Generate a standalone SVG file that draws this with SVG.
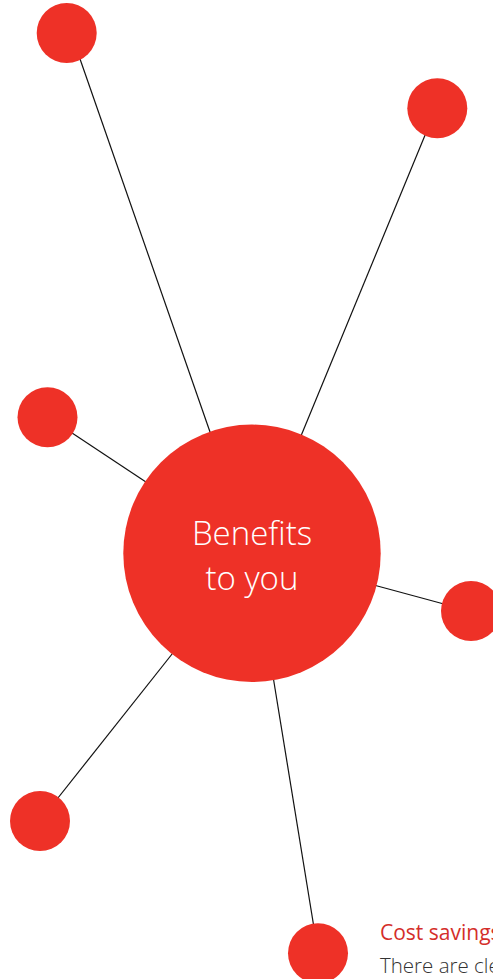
<svg xmlns="http://www.w3.org/2000/svg" width="493" height="979" viewBox="0 0 493 979">
<style>
.dot{fill:#EE3127}
.ln{stroke:#111;stroke-width:1.2;fill:none}
.ctr{font-family:"Open Sans","Liberation Sans",sans-serif;font-weight:300;font-size:33px;fill:#fff;text-anchor:middle}
.hd{font-family:"Open Sans","Liberation Sans",sans-serif;font-weight:500;font-size:21px;fill:#D42E2A}
.bd{font-family:"Open Sans","Liberation Sans",sans-serif;font-weight:300;font-size:20.5px;fill:#333}
</style>
<rect width="493" height="979" fill="#fff"/>
<g id="connectors">
<line class="ln" x1="73.4" y1="40" x2="216.3" y2="450"/>
<line class="ln" x1="428" y1="128" x2="296" y2="448"/>
<line class="ln" x1="60" y1="425" x2="155" y2="488"/>
<line class="ln" x1="370" y1="584" x2="455" y2="607"/>
<line class="ln" x1="180" y1="644" x2="50" y2="808"/>
<line class="ln" x1="272" y1="670" x2="316" y2="940"/>
</g>
<g id="node-top-left"><circle class="dot" cx="66.7" cy="33" r="30"/></g>
<g id="node-top-right"><circle class="dot" cx="437.3" cy="108.3" r="30"/></g>
<g id="node-left"><circle class="dot" cx="47.5" cy="417.3" r="30"/></g>
<g id="node-right"><circle class="dot" cx="471" cy="611" r="30"/></g>
<g id="node-bottom-left"><circle class="dot" cx="40" cy="821" r="30"/></g>
<g id="node-bottom"><circle class="dot" cx="318" cy="953.3" r="30"/></g>
<g id="node-center">
<circle class="dot" cx="252" cy="553.3" r="128.7"/>
<text class="ctr" x="252" y="545">Benefits</text>
<text class="ctr" x="252" y="590">to you</text>
</g>
<g id="caption">
<text class="hd" x="380" y="940">Cost savings</text>
<text class="bd" x="380" y="973">There are cle</text>
</g>
</svg>
